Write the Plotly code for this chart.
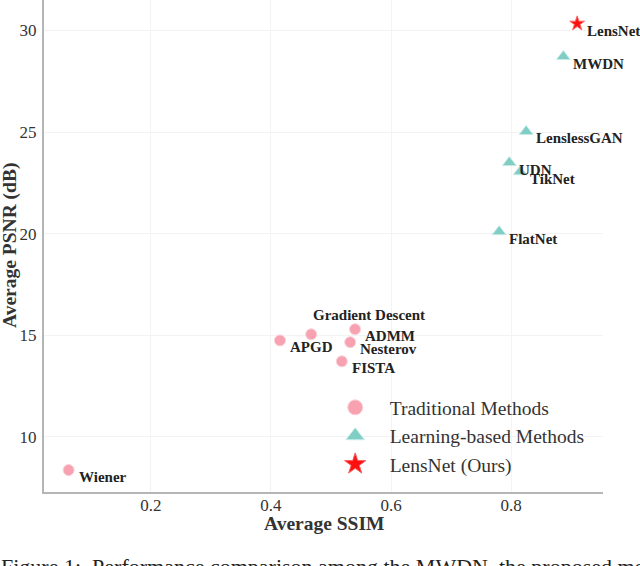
import plotly.graph_objects as go

# Traditional methods
trad_names = ["Wiener", "APGD", "Gradient Descent", "ADMM", "Nesterov", "FISTA"]
trad_ssim = [0.063, 0.415, 0.467, 0.540, 0.532, 0.518]
trad_psnr = [8.37, 14.75, 15.05, 15.30, 14.66, 13.72]

# Learning-based methods
learn_names = ["MWDN", "LenslessGAN", "UDN", "TikNet", "FlatNet"]
learn_ssim = [0.887, 0.825, 0.797, 0.815, 0.780]
learn_psnr = [28.72, 25.03, 23.50, 23.05, 20.10]

# Ours
ours_names = ["LensNet"]
ours_ssim = [0.910]
ours_psnr = [30.34]

legend_names = ["Traditional Methods", "Learning-based Methods", "LensNet (Ours)"]
x_ticks = [0.2, 0.4, 0.6, 0.8]
y_ticks = [10, 15, 20, 25, 30]
x_title = "Average SSIM"
y_title = "Average PSNR (dB)"
caption = "Figure 1:  Performance comparison among the MWDN, the proposed model"

FONT = "Liberation Serif, Times New Roman, serif"
PINK = "#f7a1b1"
TEAL = "#7fcdc4"
RED = "#ff1010"
TXT = "#333333"

styles = [
    dict(symbol="circle", color=PINK, line=dict(color="#fbd0d8", width=1)),
    dict(symbol="triangle-up", color=TEAL, line=dict(color="#c6ebe6", width=1)),
    dict(symbol="star", color=RED, line=dict(color="#ff6060", width=1)),
]
plot_sizes = [11, 12, 11]
legend_sizes = [15, 16, 17]
series = [(trad_names, trad_ssim, trad_psnr),
          (learn_names, learn_ssim, learn_psnr),
          (ours_names, ours_ssim, ours_psnr)]

fig = go.Figure()
for i, (names, xs, ys) in enumerate(series):
    fig.add_trace(go.Scatter(
        x=xs, y=ys, mode="markers", name=legend_names[i], showlegend=False,
        legendgroup="g%d" % i,
        marker=dict(size=plot_sizes[i], **styles[i]),
    ))
for i in range(3):
    fig.add_trace(go.Scatter(
        x=[None], y=[None], mode="markers", name=legend_names[i], showlegend=True,
        legendgroup="g%d" % i,
        marker=dict(size=legend_sizes[i], **styles[i]),
    ))

label_font = dict(family=FONT, size=15, color="#222222")
special = {"Gradient Descent": (0, 19)}
for names, xs, ys in series:
    for n, xv, yv in zip(names, xs, ys):
        dx, dy = special.get(n, (8, -7))
        fig.add_annotation(x=xv, y=yv, text="<b>%s</b>" % n, showarrow=False,
                           xanchor="left", yanchor="middle",
                           xshift=dx, yshift=dy, font=label_font)

title_font = dict(family=FONT, size=19.5, color=TXT)
fig.add_annotation(
    xref="paper", yref="paper", x=-0.061, y=0.502, xanchor="center", yanchor="middle",
    textangle=-90, text="<b>%s</b>" % y_title, showarrow=False, font=title_font,
)
fig.add_annotation(
    xref="paper", yref="paper", x=0.5, y=-0.064, xanchor="center", yanchor="middle",
    text="<b>%s</b>" % x_title, showarrow=False, font=title_font,
)
fig.add_annotation(
    xref="paper", yref="paper", x=-0.08, y=-0.121, xanchor="left", yanchor="top",
    text=caption, showarrow=False, font=dict(family=FONT, size=22, color="#222222"),
)

axis_common = dict(
    showgrid=True, gridcolor="#f3f3f3", gridwidth=1,
    showline=True, linecolor="#b5b5b5", linewidth=2,
    zeroline=False, ticks="", ticklen=0, automargin=False,
    tickfont=dict(family=FONT, size=17, color=TXT),
)
fig.update_xaxes(range=[0.022, 0.953], tickvals=x_ticks, ticktext=[str(v) for v in x_ticks],
                 ticklabelstandoff=-3, **axis_common)
fig.update_yaxes(range=[7.29, 31.5], tickvals=y_ticks,
                 ticklabelstandoff=2, **axis_common)

fig.update_layout(
    width=640, height=566,
    margin=dict(l=44, r=37, t=0, b=74, autoexpand=False),
    plot_bgcolor="white", paper_bgcolor="white",
    showlegend=True,
    legend=dict(x=0.495, y=0.211, xanchor="left", yanchor="top",
                font=dict(family=FONT, size=19.5, color=TXT),
                bgcolor="rgba(0,0,0,0)", itemsizing="trace", tracegroupgap=0,
                itemwidth=59),
)

fig.write_html("out.html", config={"displayModeBar": False},
               post_script="document.body.style.margin='0';")
